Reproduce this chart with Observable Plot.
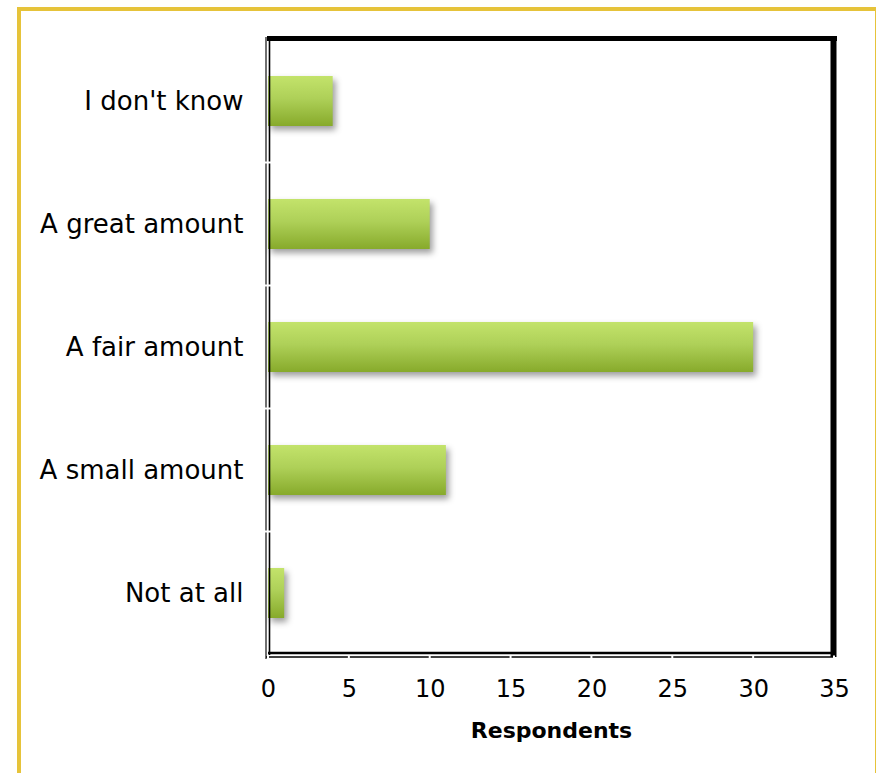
<!DOCTYPE html>
<html><head><meta charset="utf-8">
<script src="https://cdn.jsdelivr.net/npm/d3@7"></script>
<script src="https://cdn.jsdelivr.net/npm/@observablehq/plot@0.6"></script>
<style>
html,body{margin:0;padding:0;background:#fff}
body{width:876px;height:773px;overflow:hidden;position:relative}
#frame{position:absolute;left:17px;top:7px;width:859px;height:820px;box-sizing:border-box;border-left:4px solid #e6c33a;border-top:4px solid #e6c33a;border-right:1.5px solid #e6c33a;pointer-events:none}
#chart{position:absolute;left:0;top:0}
</style></head>
<body>
<div id="chart"></div>
<div id="frame"></div>
<script>
const categories = ["I don't know", "A great amount", "A fair amount", "A small amount", "Not at all"];
const respondents = [4, 10, 30, 11, 1];
const xTicks = [0, 5, 10, 15, 20, 25, 30, 35];
const xLabel = "Respondents";

const data = categories.map((c, i) => ({category: c, value: respondents[i]}));

function defs() {
  const g = d3.create("svg:defs");
  const lg = g.append("linearGradient").attr("id", "barGrad")
    .attr("x1", 0).attr("y1", 0).attr("x2", 0).attr("y2", 1);
  lg.append("stop").attr("offset", "0%").attr("stop-color", "#c3e36b");
  lg.append("stop").attr("offset", "45%").attr("stop-color", "#aed058");
  lg.append("stop").attr("offset", "100%").attr("stop-color", "#87aa2b");
  return g.node();
}

function decor(index, scales, values, dims) {
  const x = scales.x, y = scales.y;
  const L = dims.marginLeft, R = dims.width - dims.marginRight;
  const T = dims.marginTop, B = dims.height - dims.marginBottom;
  const g = d3.create("svg:g").attr("fill", "none");
  g.append("line").attr("x1", L - 1).attr("x2", R + 3).attr("y1", T + 0.5).attr("y2", T + 0.5)
    .attr("stroke", "#000").attr("stroke-width", 5);
  g.append("line").attr("x1", R - 0.5).attr("x2", R - 0.5).attr("y1", T - 2).attr("y2", B + 2)
    .attr("stroke", "#000").attr("stroke-width", 6);
  g.append("line").attr("x1", L - 2).attr("x2", L - 2).attr("y1", T - 1).attr("y2", B + 4)
    .attr("stroke", "#222").attr("stroke-width", 1.3);
  g.append("line").attr("x1", L + 1.5).attr("x2", L + 1.5).attr("y1", T).attr("y2", B)
    .attr("stroke", "#000").attr("stroke-width", 1.6);
  g.append("line").attr("x1", L).attr("x2", R).attr("y1", B - 2).attr("y2", B - 2)
    .attr("stroke", "#000").attr("stroke-width", 2.6);
  g.append("line").attr("x1", L - 2).attr("x2", R).attr("y1", B + 2).attr("y2", B + 2)
    .attr("stroke", "#000").attr("stroke-width", 1.6);
  for (const t of xTicks) {
    const px = x(t);
    g.append("line").attr("x1", px).attr("x2", px).attr("y1", B + 0.5).attr("y2", B + 4)
      .attr("stroke", "#fff").attr("stroke-width", 2);
  }
  const dom = y.domain();
  const step = y(dom[1]) - y(dom[0]);
  const bw = y.bandwidth();
  for (let i = 0; i < dom.length - 1; i++) {
    const py = y(dom[i]) + bw + (step - bw) / 2;
    g.append("line").attr("x1", L - 4).attr("x2", L + 3).attr("y1", py).attr("y2", py)
      .attr("stroke", "#fff").attr("stroke-width", 2);
  }
  return g.node();
}

const plot = Plot.plot({
  width: 876,
  height: 773,
  marginLeft: 268,
  marginRight: 42,
  marginTop: 38,
  marginBottom: 118,
  style: {fontFamily: "'DejaVu Sans', sans-serif", color: "#000", background: "transparent"},
  x: {domain: [0, 35]},
  y: {domain: categories, paddingInner: 0.595, paddingOuter: 0.2975},
  marks: [
    defs,
    Plot.barX(data, {x: "value", y: "category", fill: "url(#barGrad)"}),
    decor,
    Plot.axisY({tickSize: 0, tickPadding: 25, fontSize: 26, label: null}),
    Plot.axisX({ticks: xTicks, tickSize: 0, tickPadding: 24, fontSize: 24, label: null}),
    Plot.text([xLabel], {frameAnchor: "bottom", dy: 82, fontSize: 22, fontWeight: "bold", fill: "#000"})
  ]
});

const bars = plot.querySelector('g[aria-label="bar"]');
if (bars) bars.style.filter = "drop-shadow(3px 4px 3px rgba(0,0,0,0.38))";
document.getElementById("chart").appendChild(plot);
</script>
</body></html>
